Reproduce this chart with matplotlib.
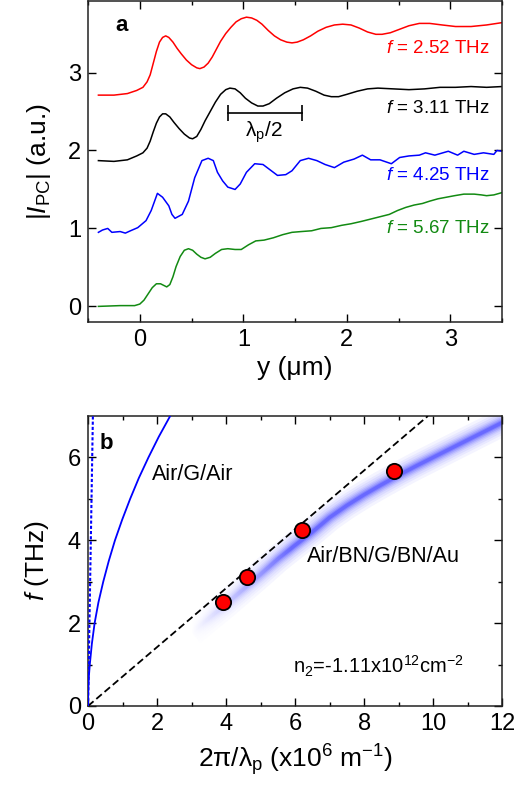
import numpy as np
import matplotlib
matplotlib.use('Agg')
import matplotlib.pyplot as plt

plt.rcParams['font.family'] = ['Liberation Sans', 'DejaVu Sans']
plt.rcParams['mathtext.fontset'] = 'custom'
plt.rcParams['mathtext.rm'] = 'Liberation Sans'
plt.rcParams['mathtext.it'] = 'Liberation Sans:italic'
plt.rcParams['mathtext.bf'] = 'Liberation Sans:bold'

# ---- panel a: photocurrent profiles (offset traces) ----
y_red = [-0.40, -0.25, -0.12, -0.03, 0.03, 0.07, 0.10, 0.13, 0.16, 0.19, 0.22, 0.25, 0.28, 0.32,
         0.36, 0.40, 0.45, 0.50, 0.55, 0.58, 0.62, 0.66, 0.70, 0.74, 0.78, 0.83, 0.88, 0.93, 0.98,
         1.03, 1.08, 1.13, 1.18, 1.24, 1.30, 1.36, 1.42, 1.47, 1.52, 1.58, 1.65, 1.72, 1.80, 1.88,
         1.96, 2.04, 2.12, 2.20, 2.28, 2.34, 2.42, 2.50, 2.60, 2.70, 2.80, 2.92, 3.05, 3.20, 3.35,
         3.50]
i_red = [2.71, 2.71, 2.73, 2.77, 2.81, 2.88, 2.97, 3.12, 3.27, 3.39, 3.45, 3.47, 3.45, 3.39,
         3.31, 3.24, 3.16, 3.10, 3.06, 3.05, 3.07, 3.12, 3.20, 3.30, 3.40, 3.50, 3.58, 3.65, 3.69,
         3.71, 3.70, 3.67, 3.62, 3.54, 3.47, 3.42, 3.39, 3.38, 3.39, 3.42, 3.47, 3.53, 3.58, 3.61,
         3.62, 3.61, 3.57, 3.52, 3.49, 3.49, 3.51, 3.55, 3.60, 3.63, 3.63, 3.61, 3.59, 3.59, 3.61,
         3.64]

y_blk = [-0.40, -0.25, -0.12, -0.03, 0.03, 0.07, 0.10, 0.13, 0.16, 0.19, 0.22, 0.25, 0.29, 0.33,
         0.38, 0.43, 0.48, 0.51, 0.55, 0.59, 0.63, 0.68, 0.73, 0.78, 0.83, 0.87, 0.92, 0.97, 1.02,
         1.08, 1.14, 1.19, 1.25, 1.32, 1.40, 1.48, 1.55, 1.62, 1.70, 1.78, 1.85, 1.92, 2.00, 2.10,
         2.20, 2.30, 2.45, 2.60, 2.75, 2.90, 3.05, 3.20, 3.35, 3.50]
i_blk = [1.87, 1.86, 1.88, 1.93, 1.97, 2.03, 2.12, 2.24, 2.35, 2.43, 2.47, 2.47, 2.43, 2.36,
         2.28, 2.21, 2.16, 2.15, 2.18, 2.27, 2.38, 2.50, 2.62, 2.72, 2.78, 2.80, 2.79, 2.74, 2.67,
         2.61, 2.57, 2.57, 2.60, 2.67, 2.74, 2.79, 2.81, 2.80, 2.76, 2.71, 2.69, 2.69, 2.72, 2.76,
         2.79, 2.80, 2.79, 2.78, 2.79, 2.81, 2.81, 2.82, 2.81, 2.82]

y_blu = [-0.40, -0.36, -0.31, -0.27, -0.19, -0.14, -0.09, -0.02, 0.06, 0.11, 0.17, 0.22, 0.28, 0.31,
         0.34, 0.41, 0.47, 0.53, 0.60, 0.66, 0.71, 0.75, 0.80, 0.85, 0.92, 0.97, 1.03, 1.11, 1.19,
         1.29, 1.33, 1.41, 1.47, 1.55, 1.63, 1.71, 1.79, 1.88, 1.97, 2.07, 2.15, 2.23, 2.32, 2.43,
         2.51, 2.60, 2.70, 2.76, 2.85, 2.98, 3.07, 3.13, 3.23, 3.32, 3.42, 3.45, 3.50]
i_blu = [0.95, 0.98, 1.00, 0.95, 0.96, 0.94, 0.97, 1.01, 1.10, 1.23, 1.45, 1.40, 1.29, 1.18,
         1.13, 1.18, 1.35, 1.65, 1.87, 1.90, 1.87, 1.72, 1.61, 1.53, 1.50, 1.57, 1.72, 1.83, 1.82,
         1.72, 1.68, 1.69, 1.74, 1.87, 1.90, 1.87, 1.82, 1.78, 1.85, 1.89, 1.94, 1.88, 1.88, 1.83,
         1.91, 1.93, 1.94, 1.97, 1.94, 1.99, 1.94, 1.99, 1.95, 1.97, 1.95, 2.00, 1.99]

y_grn = [-0.40, -0.19, -0.05, 0.00, 0.04, 0.08, 0.12, 0.16, 0.20, 0.23, 0.26, 0.29, 0.32, 0.35,
         0.39, 0.43, 0.47, 0.51, 0.55, 0.59, 0.63, 0.68, 0.73, 0.79, 0.85, 0.92, 0.98, 1.05, 1.12,
         1.20, 1.29, 1.38, 1.47, 1.56, 1.66, 1.75, 1.85, 1.95, 2.04, 2.14, 2.23, 2.32, 2.41, 2.49,
         2.57, 2.65, 2.73, 2.80, 2.88, 2.96, 3.04, 3.13, 3.23, 3.30, 3.35, 3.42, 3.50]
i_grn = [0.00, 0.01, 0.01, 0.03, 0.08, 0.16, 0.24, 0.29, 0.29, 0.27, 0.25, 0.28, 0.38, 0.51,
         0.64, 0.72, 0.74, 0.72, 0.67, 0.63, 0.61, 0.63, 0.68, 0.73, 0.74, 0.73, 0.73, 0.79, 0.84,
         0.85, 0.88, 0.92, 0.95, 0.96, 0.97, 1.00, 1.01, 1.04, 1.06, 1.09, 1.12, 1.15, 1.18, 1.23,
         1.27, 1.30, 1.32, 1.35, 1.38, 1.40, 1.42, 1.44, 1.44, 1.43, 1.42, 1.43, 1.46]

labels_a = ['2.52', '3.11', '4.25', '5.67']
label_y_a = [3.31, 2.54, 1.68, 1.00]
colors_a = ['#ff0000', '#000000', '#0000ff', '#128a12']

# ---- panel b: dispersion ----
k_meas = [3.92, 4.60, 6.21, 8.88]
f_meas = [2.52, 3.11, 4.25, 5.67]

k_air = [0, 0.003, 0.012, 0.027, 0.05, 0.11, 0.19, 0.30, 0.44, 0.60, 0.78, 0.99, 1.22, 1.47,
         1.75, 2.05, 2.38]
f_air = [0, 0.25, 0.50, 0.75, 1.0, 1.5, 2.0, 2.5, 3.0, 3.5, 4.0, 4.5, 5.0, 5.5,
         6.0, 6.5, 7.0]

k_light = [0, 0.14]
f_light = [0, 7.0]

k_lin = [0, 9.85]
f_lin = [0, 7.0]

k_band = [3.0, 3.5, 4.0, 4.5, 5.0, 5.5, 6.0, 6.5, 7.0, 7.5, 8.0, 8.5, 9.0, 9.5, 10.0, 10.5,
          11.0, 11.5, 12.0, 12.3]
f_band = [1.78, 2.12, 2.46, 2.82, 3.18, 3.55, 3.88, 4.20, 4.55, 4.84, 5.10, 5.34, 5.57, 5.79,
          6.00, 6.21, 6.42, 6.63, 6.84, 6.96]

fig = plt.figure(figsize=(5.15, 7.96), dpi=100)
ax1 = fig.add_axes([0.171, 0.5955, 0.804, 0.4035])
ax2 = fig.add_axes([0.171, 0.1131, 0.804, 0.3643])

lw = 1.1
for xs, ys, c in zip([y_red, y_blk, y_blu, y_grn], [i_red, i_blk, i_blu, i_grn], colors_a):
    ax1.plot(xs, ys, color=c, lw=lw)
for lab, yy, c in zip(labels_a, label_y_a, colors_a):
    ax1.text(3.38, yy, r'$f$ = ' + lab + ' THz', color=c, fontsize=13.5, ha='right', va='center')

# lambda_p/2 scale bar
ax1.plot([0.856, 1.568], [2.48, 2.48], color='k', lw=1.2)
ax1.plot([0.856, 1.568], [2.48, 2.48], color='k', lw=0, marker='|', ms=11, mew=1.2)
ax1.text(1.2, 2.24, 'λ$_\\mathregular{p}$/2', fontsize=15, ha='center', va='center')
ax1.text(-0.18, 3.6, 'a', fontsize=16, fontweight='bold', ha='center', va='center')

ax1.set_xlim(-0.4, 3.5)
ax1.set_ylim(-0.2, 3.92)
ax1.set_xticks([0, 1, 2, 3])
ax1.set_xticks([-0.5, 0.5, 1.5, 2.5, 3.5], minor=True)
ax1.set_yticks([0, 1, 2, 3])
ax1.set_xlabel('y (μm)', fontsize=19, labelpad=4)
ax1.set_ylabel(r'$|I_{\mathregular{PC}}|$ (a.u.)', fontsize=19, labelpad=11)

# panel b: broadened band drawn as stacked translucent strokes
for w, a in zip([20, 16, 13, 10, 8, 6, 4, 2.5], [0.05, 0.06, 0.07, 0.09, 0.12, 0.16, 0.22, 0.3]):
    ax2.plot(k_band, f_band, color='#2b2bff', lw=w, alpha=a, solid_capstyle='butt', zorder=1)
fade = np.ones((1, 256, 4))
fade[0, :, 3] = np.clip(1.25 - 1.25 * np.linspace(0, 1, 256), 0, 1)
ax2.imshow(fade, extent=[2.3, 5.9, 0.8, 4.8], aspect='auto', zorder=2, interpolation='bilinear')

ax2.plot(k_lin, f_lin, color='k', lw=1.3, ls=(0, (4, 2)), zorder=3)
ax2.plot(k_air, f_air, color='#0000ff', lw=1.3, zorder=3)
ax2.plot(k_light, f_light, color='#0000ff', lw=1.5, ls=(0, (1.5, 1)), zorder=3)
ax2.plot(k_meas, f_meas, 'o', ms=11, mfc='#ff0000', mec='k', mew=1.3, zorder=4)

ax2.text(1.84, 5.59, 'Air/G/Air', fontsize=15.5, ha='left', va='center')
ax2.text(6.34, 3.62, 'Air/BN/G/BN/Au', fontsize=15.5, ha='left', va='center')
ax2.text(5.95, 0.95, 'n$_\\mathregular{2}$=-1.11x10$^\\mathregular{12}$cm$^\\mathregular{-2}$',
         fontsize=14.5, ha='left', va='center')
ax2.text(0.52, 6.34, 'b', fontsize=16, fontweight='bold', ha='center', va='center')

ax2.set_xlim(0, 12)
ax2.set_ylim(0, 7)
ax2.set_xticks(np.arange(0, 13, 2))
ax2.set_xticks(np.arange(1, 12, 2), minor=True)
ax2.set_yticks([0, 2, 4, 6])
ax2.set_yticks([1, 3, 5], minor=True)
ax2.set_xlabel('2π/λ$_\\mathregular{p}$ (x10$^\\mathregular{6}$ m$^\\mathregular{-1}$)', fontsize=19, labelpad=5)
ax2.set_ylabel(r'$f$ (THz)', fontsize=19, labelpad=12)

for ax in (ax1, ax2):
    ax.tick_params(which='both', direction='in', top=True, right=True, labelsize=17, width=1.0)
    ax.tick_params(which='major', length=5.5, pad=5)
    ax.tick_params(which='minor', length=3)
    for s in ax.spines.values():
        s.set_linewidth(1.1)
        s.set_color('#222222')

fig.savefig('out.png', dpi=100)
